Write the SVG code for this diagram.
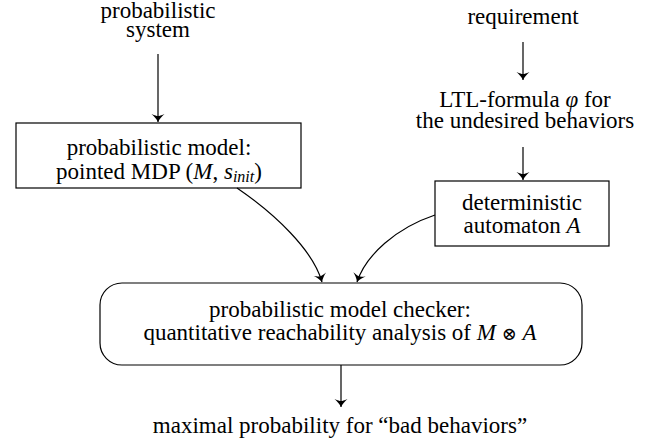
<svg xmlns="http://www.w3.org/2000/svg" width="655" height="444" viewBox="0 0 655 444">
<defs>
<marker id="ah" markerWidth="14" markerHeight="14" refX="0" refY="0" viewBox="-12 -7 14 14" orient="auto" markerUnits="userSpaceOnUse">
<path d="M0,0 C-3,-1.5 -6,-4 -8,-6.5 C-6.5,-3 -6,-1.5 -6,0 C-6,1.5 -6.5,3 -8,6.5 C-6,4 -3,1.5 0,0 Z" fill="#000"/>
</marker>
</defs>
<g font-size="23" fill="#000" text-anchor="middle">
<g id="n-system">
<text x="158" y="18" font-family="Liberation Serif">probabilistic</text>
<text x="158" y="37" font-family="Liberation Serif">system</text>
</g>
<g id="n-mdp">
<rect x="16" y="123" width="285" height="65" fill="#fff" stroke="#000" stroke-width="1.2"/>
<text x="159" y="155" font-family="Liberation Serif">probabilistic model:</text>
<text x="159" y="179" font-family="Liberation Serif">pointed MDP (<tspan font-style="italic">M</tspan>, <tspan font-style="italic">s</tspan><tspan font-style="italic" font-size="16" dy="3">init</tspan><tspan dy="-3">)</tspan></text>
</g>
<g id="n-req">
<text x="523" y="24" font-family="Liberation Serif">requirement</text>
</g>
<g id="n-ltl">
<text x="525" y="107" font-family="Liberation Serif">LTL-formula <tspan font-style="italic">φ</tspan> for</text>
<text x="525" y="128" font-family="Liberation Serif">the undesired behaviors</text>
</g>
<g id="n-aut">
<rect x="435" y="181" width="174" height="65" fill="#fff" stroke="#000" stroke-width="1.2"/>
<text x="522" y="210" font-family="Liberation Serif">deterministic</text>
<text x="522" y="233" font-family="Liberation Serif">automaton <tspan font-style="italic">A</tspan></text>
</g>
<g id="n-checker">
<rect x="100" y="283" width="482" height="82" rx="22" ry="22" fill="#fff" stroke="#000" stroke-width="1.2"/>
<text x="340" y="317" font-family="Liberation Serif">probabilistic model checker:</text>
<text x="340" y="340" font-family="Liberation Serif">quantitative reachability analysis of <tspan font-style="italic">M</tspan> <tspan font-family="DejaVu Serif" font-size="18">⊗</tspan> <tspan font-style="italic">A</tspan></text>
</g>
<g id="n-result">
<text x="340" y="433" font-family="Liberation Serif">maximal probability for “bad behaviors”</text>
</g>
</g>
<g id="connectors" fill="none" stroke="#000" stroke-width="1.2">
<path d="M158,54 L158,122" marker-end="url(#ah)"/>
<path d="M523,42 L523,80" marker-end="url(#ah)"/>
<path d="M523,147 L523,180" marker-end="url(#ah)"/>
<path d="M237,188 C275,214 313,250 322,282" marker-end="url(#ah)"/>
<path d="M435,215 C396,228 366,255 357,282" marker-end="url(#ah)"/>
<path d="M341,365 L341,407" marker-end="url(#ah)"/>
</g>
</svg>
